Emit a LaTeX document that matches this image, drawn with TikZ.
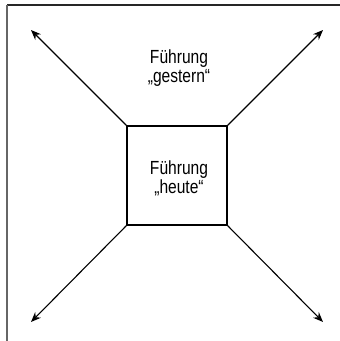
\documentclass[tikz,border=0pt]{standalone}
\usepackage{fontspec}
\setmainfont{Liberation Sans}[FakeStretch=0.82]
\usetikzlibrary{arrows.meta}
\begin{document}
\begin{tikzpicture}[x=1pt,y=-1pt,
  line width=1.2pt,
  ray/.style={-{Stealth[length=10pt,width=8pt]}, line width=1.1pt},
  label/.style={inner sep=0pt, align=center, font=\fontsize{19}{16}\selectfont, anchor=base}]
\useasboundingbox (0,0) rectangle (340,341);
% open frame: only the upper and left edges fall inside the page
\draw[line width=1.4pt, black!85] (7,5) -- (345,5);
\draw[line width=2pt, black!60] (7,5) -- (7,346);
% central box
\node[draw, line width=1.3pt, minimum width=100pt, minimum height=99pt, inner sep=0pt] (box) at (177,175.5) {};
% labels are anchored at the baseline of their second line
\node[label] (heute) at (179,193) {Führung\\„heute“};
\node[label] (gestern) at (179,82) {Führung\\„gestern“};
% rays from the corners
\coordinate (tl) at (31,30);
\coordinate (tr) at (323,30);
\coordinate (bl) at (31,322);
\coordinate (br) at (323,322);
\draw[ray] (box.north west) -- (tl);
\draw[ray] (box.north east) -- (tr);
\draw[ray] (box.south west) -- (bl);
\draw[ray] (box.south east) -- (br);
\end{tikzpicture}
\end{document}
